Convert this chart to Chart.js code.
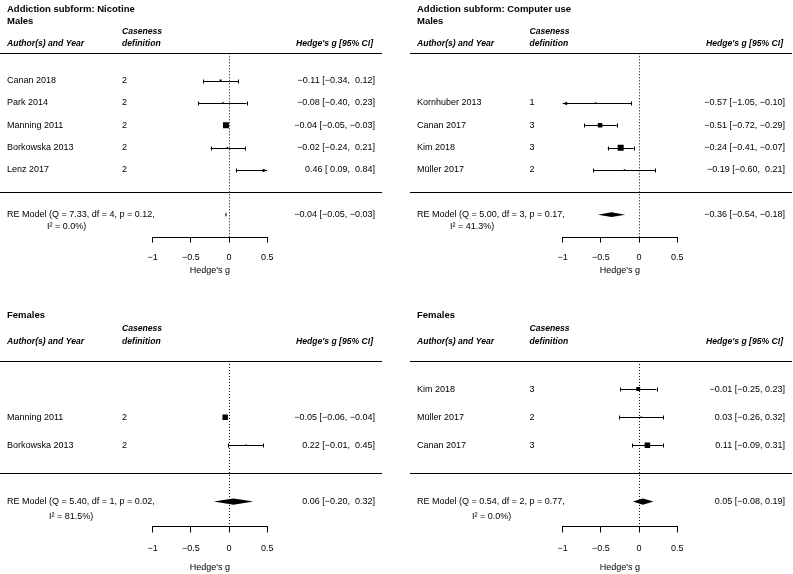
<!DOCTYPE html>
<html>
<head>
<meta charset="utf-8">
<script src="https://cdn.jsdelivr.net/npm/chart.js@4.4.1/dist/chart.umd.min.js"></script>
<style>
  body { margin: 0; background: #fff; }
  #page { position: relative; width: 793px; height: 574px; overflow: hidden; background: #fff; }
  canvas { position: absolute; }
</style>
</head>
<body>
<div id="page">
  <canvas id="nic-m" width="383" height="287" style="left:0;top:0"></canvas>
  <canvas id="pc-m" width="383" height="287" style="left:410px;top:0"></canvas>
  <canvas id="nic-f" width="383" height="287" style="left:0;top:287px"></canvas>
  <canvas id="pc-f" width="383" height="287" style="left:410px;top:287px"></canvas>
</div>
<script>
// Nicotine, males
const nicMaleStudy = ["Canan 2018", "Park 2014", "Manning 2011", "Borkowska 2013", "Lenz 2017"];
const nicMaleCase = [2, 2, 2, 2, 2];
const nicMaleG = [-0.11, -0.08, -0.04, -0.02, 0.46];
const nicMaleLo = [-0.34, -0.40, -0.05, -0.24, 0.09];
const nicMaleHi = [0.12, 0.23, -0.03, 0.21, 0.84];
const nicMaleRE = [-0.04, -0.05, -0.03];   // estimate, lower, upper
const nicMaleHet = [7.33, 4, 0.12, 0.0];   // Q, df, p, I2 %

// Computer use, males
const pcMaleStudy = ["Kornhuber 2013", "Canan 2017", "Kim 2018", "Müller 2017"];
const pcMaleCase = [1, 3, 3, 2];
const pcMaleG = [-0.57, -0.51, -0.24, -0.19];
const pcMaleLo = [-1.05, -0.72, -0.41, -0.60];
const pcMaleHi = [-0.10, -0.29, -0.07, 0.21];
const pcMaleRE = [-0.36, -0.54, -0.18];
const pcMaleHet = [5.00, 3, 0.17, 41.3];

// Nicotine, females
const nicFemStudy = ["Manning 2011", "Borkowska 2013"];
const nicFemCase = [2, 2];
const nicFemG = [-0.05, 0.22];
const nicFemLo = [-0.06, -0.01];
const nicFemHi = [-0.04, 0.45];
const nicFemRE = [0.06, -0.20, 0.32];
const nicFemHet = [5.40, 1, 0.02, 81.5];

// Computer use, females
const pcFemStudy = ["Kim 2018", "Müller 2017", "Canan 2017"];
const pcFemCase = [3, 2, 3];
const pcFemG = [-0.01, 0.03, 0.11];
const pcFemLo = [-0.25, -0.26, -0.09];
const pcFemHi = [0.23, 0.32, 0.31];
const pcFemRE = [0.05, -0.08, 0.19];
const pcFemHet = [0.54, 2, 0.77, 0.0];

const xTicks = [-1, -0.5, 0, 0.5];

const FONT = "'Liberation Sans', Arial, Helvetica, sans-serif";
Chart.defaults.font.family = FONT;
Chart.defaults.color = '#000';

// layout of the two rows of panels (pixels / row units)
const topRow = { yMin: -2, yMax: -2 + 237 / 22.75, topRule: 6.22, axisH: 50, tickLen: 5.5, tickPad: 9.6,
                 titlePadBottom: 10.6, titleY: [9, 21], head1: 32, head2: 43.5 };
const botRow = { yMin: -1.87, yMax: -1.87 + 239 / 28.6, topRule: 4, axisH: 48, tickLen: 6.5, tickPad: 10.8,
                 titlePadBottom: 0.6, titleY: [28], head1: 42, head2: 55 };

const fmt = v => (v < 0 ? '\u2212' : '') + Math.abs(v).toFixed(2);
const padNum = (v, col) => (v >= 0 && col.some(c => c < 0) ? ' ' : '') + fmt(v);

function forestPanel(id, L, p) {
  const n = p.study.length;
  const rows = p.study.map((s, i) => n - i);
  const estCol = p.g.concat([p.re[0]]);
  const loCol = p.lo.concat([p.re[1]]);
  const hiCol = p.hi.concat([p.re[2]]);
  const ciText = (e, l, h) => `${padNum(e, estCol)} [${padNum(l, loCol)}, ${padNum(h, hiCol)}]`;

  const plugin = {
    id: 'forest',
    beforeDatasetsDraw(chart) {
      const { ctx, chartArea } = chart;
      const sx = chart.scales.x, sy = chart.scales.y;
      const X = v => sx.getPixelForValue(v), Y = v => sy.getPixelForValue(v);
      ctx.save();
      ctx.strokeStyle = '#000';
      ctx.fillStyle = '#000';
      ctx.lineWidth = 1;
      // rules above and below the studies
      [L.topRule, 0].forEach(r => {
        const yy = Math.round(Y(r)) + 0.5;
        ctx.beginPath(); ctx.moveTo(0, yy); ctx.lineTo(382, yy); ctx.stroke();
      });
      // dotted line at zero
      const x0 = Math.round(X(0)) + 0.5;
      ctx.setLineDash([1, 2]);
      ctx.beginPath(); ctx.moveTo(x0, Y(L.topRule)); ctx.lineTo(x0, chartArea.bottom); ctx.stroke();
      ctx.setLineDash([]);
      // confidence intervals
      rows.forEach((r, i) => {
        const yy = Math.round(Y(r)) + 0.5;
        const l = Math.max(p.lo[i], sx.min), h = Math.min(p.hi[i], sx.max);
        ctx.beginPath(); ctx.moveTo(X(l), yy); ctx.lineTo(X(h), yy); ctx.stroke();
        [[p.lo[i], l, -1], [p.hi[i], h, 1]].forEach(([raw, v, dir]) => {
          const xx = X(v);
          if (raw !== v) {
            ctx.beginPath();
            ctx.moveTo(xx, yy);
            ctx.lineTo(xx - dir * 4.5, yy - 1.8);
            ctx.lineTo(xx - dir * 4.5, yy + 1.8);
            ctx.closePath(); ctx.fill();
          } else {
            const xc = Math.round(xx) + 0.5;
            ctx.beginPath(); ctx.moveTo(xc, yy - 2); ctx.lineTo(xc, yy + 2); ctx.stroke();
          }
        });
      });
      // summary diamond
      const yr = Y(-1), dh = Math.abs(Y(-1 + 0.11) - yr);
      ctx.beginPath();
      ctx.moveTo(X(p.re[1]), yr);
      ctx.lineTo(X(p.re[0]), yr - dh);
      ctx.lineTo(X(p.re[2]), yr);
      ctx.lineTo(X(p.re[0]), yr + dh);
      ctx.closePath(); ctx.fill();
      ctx.restore();
    },
    afterDraw(chart) {
      const ctx = chart.ctx;
      const Y = v => chart.scales.y.getPixelForValue(v);
      ctx.save();
      ctx.fillStyle = '#000';
      ctx.textBaseline = 'middle';
      ctx.textAlign = 'left';
      ctx.font = `bold 9.5px ${FONT}`;
      p.titles.forEach((t, k) => ctx.fillText(t, 7, L.titleY[k]));
      ctx.font = `bold italic 8.6px ${FONT}`;
      ctx.fillText('Caseness', p.caseX, L.head1);
      ctx.fillText('Author(s) and Year', 7, L.head2);
      ctx.fillText('definition', p.caseX, L.head2);
      ctx.textAlign = 'right';
      ctx.fillText("Hedge's g [95% CI]", 373, L.head2);
      ctx.font = `9px ${FONT}`;
      rows.forEach((r, i) => {
        const yy = Y(r);
        ctx.textAlign = 'left';
        ctx.fillText(p.study[i], 7, yy);
        ctx.fillText(String(p.caseDef[i]), p.caseX, yy);
        ctx.textAlign = 'right';
        ctx.fillText(ciText(p.g[i], p.lo[i], p.hi[i]), 375, yy);
      });
      const [Q, df, pv, i2] = p.het;
      ctx.textAlign = 'left';
      ctx.fillText(`RE Model (Q = ${Q.toFixed(2)}, df = ${df}, p = ${pv.toFixed(2)},`, 7, Y(-1));
      ctx.fillText(`I\u00b2 = ${i2.toFixed(1)}%)`, p.i2X, Y(-1.53));
      ctx.textAlign = 'right';
      ctx.fillText(ciText(p.re[0], p.re[1], p.re[2]), 375, Y(-1));
      ctx.restore();
    }
  };

  return new Chart(document.getElementById(id).getContext('2d'), {
    type: 'scatter',
    data: {
      datasets: [{
        data: p.g.map((v, i) => ({ x: v, y: rows[i] })),
        pointStyle: 'rect',
        pointRadius: p.box.map(s => s / Math.SQRT2),
        pointBackgroundColor: '#000',
        pointBorderWidth: 0,
        showLine: false,
      }],
    },
    options: {
      responsive: false,
      devicePixelRatio: 1,
      animation: false,
      events: [],
      layout: { padding: { left: 152.7, right: 115.85, top: 0, bottom: 0 } },
      scales: {
        x: {
          type: 'linear',
          position: 'bottom',
          min: xTicks[0],
          max: xTicks[xTicks.length - 1],
          afterBuildTicks: s => { s.ticks = xTicks.map(v => ({ value: v })); },
          afterFit: s => { s.height = L.axisH; },
          grid: { drawOnChartArea: false, drawTicks: true, tickLength: L.tickLen, color: '#000', lineWidth: 1 },
          border: { display: true, color: '#000', width: 1 },
          ticks: {
            color: '#000', font: { size: 9 }, padding: L.tickPad, maxRotation: 0, autoSkip: false,
            callback: v => String(v).replace('-', '\u2212'),
          },
          title: { display: true, text: "Hedge's g", color: '#000', font: { size: 9 },
                   padding: { top: 0, bottom: L.titlePadBottom } },
        },
        y: {
          type: 'linear', display: false, min: L.yMin, max: L.yMax,
          ticks: { display: false },
          afterFit: s => { s.paddingTop = 0; s.paddingBottom = 0; },
        },
      },
      plugins: { legend: { display: false }, tooltip: { enabled: false } },
    },
    plugins: [plugin],
  });
}

forestPanel('nic-m', topRow, {
  titles: ['Addiction subform: Nicotine', 'Males'],
  study: nicMaleStudy, caseDef: nicMaleCase, g: nicMaleG, lo: nicMaleLo, hi: nicMaleHi,
  re: nicMaleRE, het: nicMaleHet, box: [2, 1.5, 6, 1.5, 1], caseX: 122, i2X: 47,
});
forestPanel('pc-m', topRow, {
  titles: ['Addiction subform: Computer use', 'Males'],
  study: pcMaleStudy, caseDef: pcMaleCase, g: pcMaleG, lo: pcMaleLo, hi: pcMaleHi,
  re: pcMaleRE, het: pcMaleHet, box: [1.5, 4.5, 6, 1.5], caseX: 119.5, i2X: 40,
});
forestPanel('nic-f', botRow, {
  titles: ['Females'],
  study: nicFemStudy, caseDef: nicFemCase, g: nicFemG, lo: nicFemLo, hi: nicFemHi,
  re: nicFemRE, het: nicFemHet, box: [5.5, 1.5], caseX: 122, i2X: 49,
});
forestPanel('pc-f', botRow, {
  titles: ['Females'],
  study: pcFemStudy, caseDef: pcFemCase, g: pcFemG, lo: pcFemLo, hi: pcFemHi,
  re: pcFemRE, het: pcFemHet, box: [4, 1.5, 5.5], caseX: 119.5, i2X: 62,
});
</script>
</body>
</html>
